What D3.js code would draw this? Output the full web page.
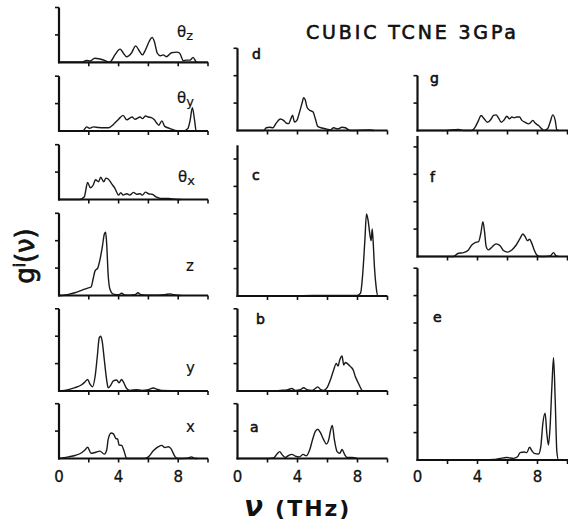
<!DOCTYPE html>
<html>
<head>
<meta charset="utf-8">
<script src="https://cdn.jsdelivr.net/npm/d3@7/dist/d3.min.js"></script>
<style>
  body { margin: 0; background: #fff; }
  svg { display: block; }
  text { font-family: "DejaVu Sans", sans-serif; fill: #111; }
</style>
</head>
<body>
<div id="chart"></div>
<script>
"use strict"

/* frequency ticks (THz) and the ones that get a label */
const freqTicks = [2, 4, 6, 8, 10];
const freqLabels = [0, 4, 8];

/* densities g_i(nu): [frequency THz, value in tick units] */
const thetaZ = [[0,0],[1.5,0],[1.86,0.07],[2.1,0.05],[2.4,0.15],[2.75,0.12],[3.1,0.06],[3.35,0],[3.5,0.05],
  [3.75,0.27],[4.1,0.48],[4.3,0.35],[4.55,0.2],[4.85,0.33],[5.15,0.6],[5.35,0.45],[5.6,0.27],[5.8,0.45],
  [6.05,0.76],[6.25,0.91],[6.4,0.76],[6.6,0.33],[6.8,0.24],[7.0,0.27],[7.2,0.2],[7.55,0.35],[7.9,0.37],
  [8.1,0.33],[8.35,0.06],[8.55,0.08],[8.8,0.08],[9.0,0.18],[9.2,0.02],[9.3,0]];

const thetaY = [[0,0],[1.6,0],[1.86,0.15],[2.05,0.1],[2.3,0.15],[2.65,0.13],[3.0,0.12],[3.35,0.12],[3.65,0.24],
  [4.0,0.43],[4.3,0.57],[4.55,0.41],[4.9,0.51],[5.1,0.43],[5.45,0.51],[5.6,0.45],[5.8,0.55],[6.0,0.51],
  [6.2,0.49],[6.4,0.41],[6.55,0.29],[6.7,0.21],[6.9,0.37],[7.1,0.17],[7.45,0.09],[7.8,0.02],[8.35,0],
  [8.65,0.09],[8.8,0.39],[8.95,0.85],[9.1,0.39],[9.2,0.02],[9.3,0]];

const thetaX = [[0,0],[1.4,0],[1.7,0.1],[1.92,0.62],[2.1,0.43],[2.3,0.53],[2.45,0.72],[2.65,0.65],[2.8,0.81],
  [3.0,0.65],[3.15,0.78],[3.3,0.75],[3.55,0.56],[3.75,0.41],[4.0,0.16],[4.15,0.25],[4.3,0.16],[4.55,0.21],
  [4.75,0.16],[5.0,0.26],[5.2,0.19],[5.45,0.21],[5.6,0.16],[5.8,0.27],[6.05,0.2],[6.25,0.19],[6.5,0.1],
  [6.8,0.04],[7.35,0.04],[7.8,0.01],[8.2,0]];

const transZ = [[0,0],[0.2,0],[0.63,0.04],[1.07,0.1],[1.52,0.19],[1.97,0.28],[2.15,0.31],[2.3,0.63],[2.42,0.9],
  [2.6,1.0],[2.75,1.31],[2.9,1.75],[3.05,2.25],[3.13,2.31],[3.2,1.88],[3.3,0.75],[3.42,0.23],[3.65,0.05],
  [4.0,0.03],[4.2,0.08],[4.45,0.01],[5.1,0.03],[5.3,0.1],[5.5,0.03],[6.2,0.01],[7.1,0.03],[7.45,0.06],
  [7.7,0.03],[8.2,0]];

const transY = [[0,0],[0.63,0.05],[1.07,0.12],[1.52,0.23],[1.74,0.33],[1.92,0.42],[2.08,0.25],[2.24,0.15],
  [2.42,0.52],[2.57,1.26],[2.7,1.94],[2.8,2.0],[2.9,1.81],[3.04,1.14],[3.2,0.4],[3.3,0.12],[3.47,0.21],
  [3.65,0.37],[3.87,0.4],[4.03,0.3],[4.2,0.42],[4.32,0.33],[4.54,0.09],[4.76,0.02],[5.2,0.05],[5.55,0.02],
  [6.0,0.05],[6.33,0.11],[6.55,0.07],[6.9,0.02],[7.8,0.01],[8.7,0]];

const transX = [[0,0],[0.63,0.06],[1.07,0.11],[1.52,0.21],[1.74,0.31],[1.92,0.41],[2.15,0.19],[2.42,0.22],
  [2.75,0.27],[3.04,0.16],[3.2,0.31],[3.3,0.7],[3.5,0.93],[3.65,0.9],[3.8,0.74],[3.94,0.7],[4.03,0.49],
  [4.2,0.48],[4.38,0.25],[4.54,0],[5.77,0],[6.0,0.06],[6.33,0.28],[6.67,0.43],[6.9,0.48],[7.1,0.4],
  [7.34,0.43],[7.5,0.37],[7.8,0.06],[8.0,0],[8.57,0.01],[8.9,0.06],[9.08,0.01],[9.3,0]];

const modeD = [[0,0],[1.74,0],[1.92,0.1],[2.14,0.12],[2.36,0.1],[2.58,0.27],[2.85,0.42],[3.07,0.37],[3.25,0.27],
  [3.4,0.25],[3.56,0.43],[3.67,0.56],[3.8,0.31],[3.96,0.37],[4.14,0.68],[4.3,0.99],[4.41,1.2],[4.52,1.11],
  [4.63,0.86],[4.81,0.74],[5.03,0.68],[5.19,0.43],[5.35,0.15],[5.63,0.09],[5.97,0.05],[6.19,0.02],[6.41,0.1],
  [6.68,0.06],[6.97,0.12],[7.19,0.1],[7.53,0],[8.86,0.02],[9.1,0]];

const modeC = [[0,0],[2.85,0],[5.08,0.02],[7.97,0.02],[8.2,0.1],[8.35,0.82],[8.49,2.02],[8.6,2.99],[8.71,2.75],
  [8.82,2.27],[8.91,2.02],[8.98,2.45],[9.04,2.02],[9.13,1.06],[9.24,0.34],[9.35,0.01],[9.5,0]];

const modeB = [[0,0],[2.4,0],[2.85,0.02],[3.3,0.04],[3.63,0.09],[3.85,0.02],[4.19,0.05],[4.41,0.12],[4.63,0.05],
  [4.97,0.02],[5.19,0.09],[5.35,0.15],[5.52,0.06],[5.75,0.02],[5.97,0.12],[6.19,0.4],[6.41,0.77],[6.59,1.01],
  [6.7,0.91],[6.82,1.14],[6.97,1.28],[7.08,0.95],[7.19,1.04],[7.35,0.99],[7.53,0.89],[7.71,0.77],[7.86,0.52],
  [8.02,0.33],[8.2,0.12],[8.31,0.02],[8.4,0]];

const modeA = [[0,0],[1.74,0],[2.4,0.02],[2.63,0.16],[2.81,0.25],[2.96,0.15],[3.18,0.04],[3.41,0.11],[3.63,0.15],
  [3.85,0.09],[4.14,0.06],[4.37,0.15],[4.59,0.1],[4.81,0.31],[5.03,0.74],[5.19,0.99],[5.35,1.07],[5.52,0.95],
  [5.75,0.68],[5.92,0.53],[6.08,0.68],[6.19,0.99],[6.32,1.21],[6.46,0.68],[6.64,0.25],[6.82,0.19],[6.97,0.33],
  [7.13,0.16],[7.3,0.04],[7.64,0.04],[7.97,0]];

const modeG = [[0,0],[1.73,0],[2.73,0.04],[3.07,0],[3.62,0],[3.84,0.12],[4.07,0.37],[4.24,0.55],[4.44,0.43],
  [4.67,0.3],[4.89,0.4],[5.07,0.55],[5.24,0.57],[5.4,0.46],[5.58,0.3],[5.78,0.39],[5.96,0.52],[6.13,0.43],
  [6.29,0.49],[6.44,0.46],[6.62,0.49],[6.8,0.49],[6.96,0.37],[7.18,0.3],[7.4,0.24],[7.56,0.3],[7.69,0.37],
  [7.84,0.27],[8.07,0.18],[8.29,0.06],[8.44,0],[8.67,0.06],[8.84,0.3],[9.02,0.57],[9.18,0.37],[9.29,0.02],[9.4,0]];

const modeF = [[0,0],[2.4,0],[2.73,0.12],[3.07,0.14],[3.4,0.24],[3.62,0.42],[3.84,0.51],[4.07,0.54],[4.22,0.84],
  [4.36,1.27],[4.47,0.9],[4.58,0.36],[4.73,0.24],[4.96,0.34],[5.24,0.46],[5.51,0.39],[5.73,0.22],[6.0,0.16],
  [6.29,0.24],[6.58,0.42],[6.84,0.66],[7.02,0.82],[7.18,0.72],[7.33,0.58],[7.47,0.63],[7.62,0.48],[7.78,0.24],
  [7.96,0.05],[8.18,0],[8.84,0.02],[9.07,0.14],[9.24,0.02],[9.4,0]];

const modeE = [[0,0],[3.96,0],[5.07,0.02],[5.51,0.06],[5.96,0.09],[6.4,0.06],[6.67,0.12],[6.84,0.27],[7.11,0.29],
  [7.29,0.27],[7.47,0.47],[7.62,0.34],[7.78,0.24],[8.07,0.22],[8.22,0.49],[8.36,1.35],[8.51,1.71],[8.62,0.98],
  [8.73,0.55],[8.84,1.22],[8.96,2.69],[9.07,3.73],[9.18,2.2],[9.29,0.31],[9.4,0],[9.6,0]];

let svg = d3.select("#chart")
  .append("svg")
  .attr("width", 568)
  .attr("height", 525);

/* three columns of panels, each with its own frequency scale */
const columns = [
  {x0: 59, x1: 208, axisEnd: 208},
  {x0: 237.5, x1: 387.5, axisEnd: 387.5},
  {x0: 417.5, x1: 567.5, axisEnd: 568}
];

const unit = 27.4;  // px per y tick

/* panel placement: column, baseline, number of y ticks */
const panels = [
  {data: thetaZ, col: 0, base: 62.3, ticks: 2, top: 2},
  {data: thetaY, col: 0, base: 131, ticks: 2, top: 2},
  {data: thetaX, col: 0, base: 199.5, ticks: 2, top: 2},
  {data: transZ, col: 0, base: 295.5, ticks: 3, top: 3},
  {data: transY, col: 0, base: 391, ticks: 3, top: 3},
  {data: transX, col: 0, base: 458.5, ticks: 2, top: 2},
  {data: modeD, col: 1, base: 130.5, ticks: 3, top: 3},
  {data: modeC, col: 1, base: 296, ticks: 5, top: 5.5},
  {data: modeB, col: 1, base: 391, ticks: 3, top: 3},
  {data: modeA, col: 1, base: 458.5, ticks: 2, top: 2},
  {data: modeG, col: 2, base: 130.5, ticks: 2, top: 2},
  {data: modeF, col: 2, base: 256.5, ticks: 4, top: 4.4},
  {data: modeE, col: 2, base: 460, ticks: 7, top: 7}
];

panels.forEach(p => {
  let c = columns[p.col];
  let x = d3.scaleLinear().domain([0, 10]).range([c.x0, c.x1]);
  let y = d3.scaleLinear().domain([0, 1]).range([p.base, p.base - unit]);

  /* curve */
  svg.append("path")
    .datum(p.data)
    .attr("d", d3.line().x(d => x(d[0])).y(d => y(d[1])).curve(d3.curveMonotoneX))
    .attr("fill", "none")
    .attr("stroke", "#1a1a1a")
    .attr("stroke-width", 1.4)
    .attr("stroke-linejoin", "round");

  /* y axis */
  svg.append("line")
    .attr("x1", c.x0).attr("x2", c.x0)
    .attr("y1", p.base + 1).attr("y2", y(p.top))
    .attr("stroke", "#111").attr("stroke-width", 2.2);
  svg.selectAll(null)
    .data(d3.range(1, p.ticks + 1))
    .enter().append("line")
    .attr("x1", c.x0 - 4).attr("x2", c.x0)
    .attr("y1", d => y(d)).attr("y2", d => y(d))
    .attr("stroke", "#111").attr("stroke-width", 1.6);

  /* x axis */
  svg.append("line")
    .attr("x1", c.x0 - 1).attr("x2", c.axisEnd)
    .attr("y1", p.base).attr("y2", p.base)
    .attr("stroke", "#111").attr("stroke-width", 2.2);
  svg.selectAll(null)
    .data(freqTicks)
    .enter().append("line")
    .attr("x1", d => x(d)).attr("x2", d => x(d))
    .attr("y1", p.base).attr("y2", p.base + 4)
    .attr("stroke", "#111").attr("stroke-width", 1.6);
});

/* tick labels under the bottom row */
columns.forEach(c => {
  let x = d3.scaleLinear().domain([0, 10]).range([c.x0, c.x1]);
  svg.selectAll(null)
    .data(freqLabels)
    .enter().append("text")
    .attr("x", d => x(d))
    .attr("y", 482)
    .attr("text-anchor", "middle")
    .attr("font-size", 15)
    .attr("stroke", "#111").attr("stroke-width", 0.3)
    .text(d => d);
});

/* panel labels */
const panelLabels = [
  {t: "d", x: 252, y: 59}, {t: "c", x: 252, y: 180}, {t: "b", x: 256, y: 324}, {t: "a", x: 250, y: 432},
  {t: "g", x: 430, y: 83}, {t: "f", x: 430, y: 182}, {t: "e", x: 433, y: 322},
  {t: "z", x: 186, y: 271}, {t: "y", x: 186, y: 373}, {t: "x", x: 186, y: 432}
];
svg.selectAll(null)
  .data(panelLabels)
  .enter().append("text")
  .attr("x", d => d.x)
  .attr("y", d => d.y)
  .attr("font-size", d => "zyx".includes(d.t) ? 15 : 14)
  .attr("stroke", "#111").attr("stroke-width", d => "zyx".includes(d.t) ? 0.2 : 0.6)
  .text(d => d.t);

const thetaLabels = [{s: "z", x: 177, y: 37}, {s: "y", x: 177, y: 103}, {s: "x", x: 178, y: 182}];
thetaLabels.forEach(l => {
  let t = svg.append("text").attr("x", l.x).attr("y", l.y).attr("font-size", 15)
    .attr("stroke", "#111").attr("stroke-width", 0.2);
  t.append("tspan").text("θ");
  t.append("tspan").attr("dy", 3).attr("font-size", 13).text(l.s);
});

/* title */
svg.append("text")
  .attr("x", 306).attr("y", 39)
  .attr("font-size", 19)
  .attr("stroke", "#111").attr("stroke-width", 0.6)
  .attr("textLength", 210)
  .attr("lengthAdjust", "spacing")
  .text("CUBIC TCNE 3GPa");

/* axis titles */
let yTitle = svg.append("text")
  .attr("transform", "translate(34,256) rotate(-90)")
  .attr("text-anchor", "middle")
  .attr("font-size", 26)
  .attr("stroke", "#111").attr("stroke-width", 0.8);
yTitle.append("tspan").text("g");
yTitle.append("tspan").attr("dy", -9).attr("font-size", 15).text("i");
yTitle.append("tspan").attr("dy", 9).text("(ν)");

let xTitle = svg.append("text")
  .attr("x", 244).attr("y", 516)
  .attr("font-size", 22)
  .attr("font-weight", "bold");
xTitle.append("tspan").attr("font-size", 28).attr("font-style", "italic").text("ν");
xTitle.append("tspan").attr("dx", 12).attr("letter-spacing", 2).text("(THz)");
</script>
</body>
</html>
